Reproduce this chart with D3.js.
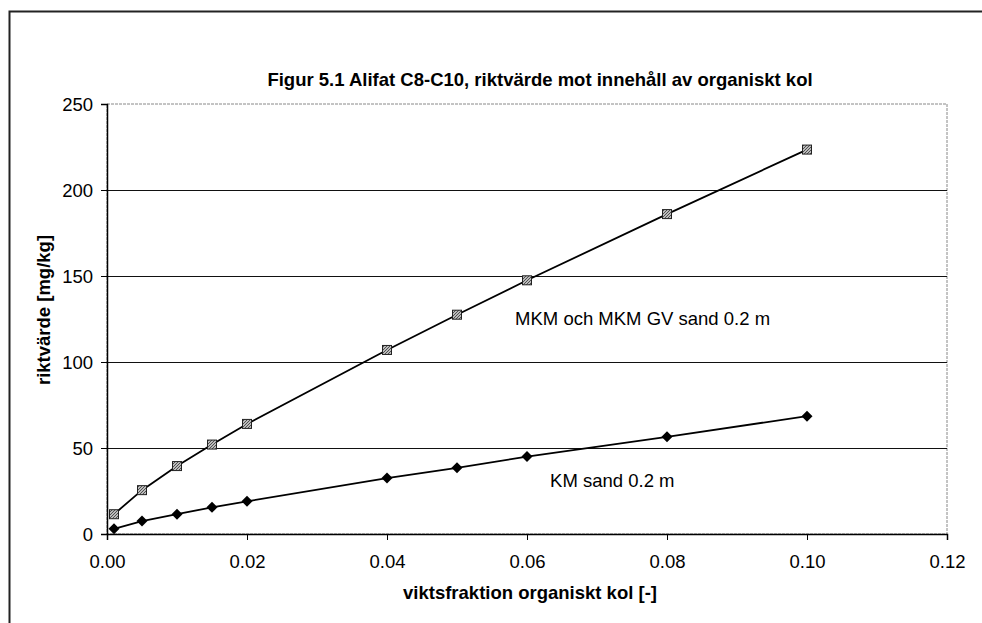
<!DOCTYPE html>
<html>
<head>
<meta charset="utf-8">
<script src="https://cdn.jsdelivr.net/npm/d3@7"></script>
<style>
  body { margin: 0; background: #fff; }
  text { font-family: "Liberation Sans", Arial, sans-serif; fill: #000; }
</style>
</head>
<body>
<div id="chart"></div>
<script>
// data
var xValues = [0.001, 0.005, 0.01, 0.015, 0.02, 0.04, 0.05, 0.06, 0.08, 0.1];
var mkmValues = [11.5, 25.5, 39.5, 52, 64, 107, 127.5, 147.5, 186, 223.5];
var kmValues = [3, 7.5, 11.5, 15.5, 19, 32.5, 38.5, 45, 56.5, 68.5];
var xTicks = [0, 0.02, 0.04, 0.06, 0.08, 0.10, 0.12];
var yTicks = [0, 50, 100, 150, 200, 250];

var W = 982, H = 623;
var margin = {top: 104, right: 35, bottom: 89, left: 107},
  width = W - margin.left - margin.right,
  height = H - margin.top - margin.bottom;

var root = d3.select("#chart")
  .append("svg")
  .attr("width", W)
  .attr("height", H);

// outer frame (runs off the page at right and bottom)
root.append("path")
  .attr("d", "M9.5," + H + " L9.5,11.5 L" + W + ",11.5")
  .attr("fill", "none")
  .attr("stroke", "#222")
  .attr("stroke-width", 2);

root.append("text")
  .attr("x", 540)
  .attr("y", 86)
  .attr("text-anchor", "middle")
  .style("font-size", "18.5px")
  .style("font-weight", "bold")
  .text("Figur 5.1 Alifat C8-C10, riktvärde mot innehåll av organiskt kol");

var svg = root.append("g")
  .attr("transform", "translate(" + margin.left + "," + margin.top + ")");

var x = d3.scaleLinear().domain([0, 0.12]).range([0, width]);
var y = d3.scaleLinear().domain([0, 250]).range([height, 0]);

// plot area border (grey, dotted look)
svg.append("rect")
  .attr("x", 0).attr("y", 0)
  .attr("width", width).attr("height", height)
  .attr("fill", "none")
  .attr("stroke", "#888")
  .attr("stroke-width", 1)
  .attr("stroke-dasharray", "3,1");

// gridlines
svg.selectAll(".grid")
  .data(yTicks.filter(function(d) { return d > 0 && d < 250; }))
  .enter().append("line")
  .attr("x1", 0).attr("x2", width)
  .attr("y1", function(d) { return Math.round(y(d)) + 0.5; })
  .attr("y2", function(d) { return Math.round(y(d)) + 0.5; })
  .attr("stroke", "#111")
  .attr("stroke-width", 1);

// axes
var xAxis = svg.append("g")
  .attr("transform", "translate(0," + height + ")")
  .call(d3.axisBottom(x).tickValues(xTicks).tickFormat(d3.format(".2f")).tickSize(6).tickPadding(15));
var yAxis = svg.append("g")
  .call(d3.axisLeft(y).tickValues(yTicks).tickSize(6).tickPadding(8));

[xAxis, yAxis].forEach(function(a) {
  a.select(".domain").attr("stroke", "#000").attr("stroke-width", 1.5);
  a.selectAll(".tick line").attr("stroke", "#000");
  a.selectAll("text")
    .style("font-family", "'Liberation Sans', Arial, sans-serif")
    .style("font-size", "18.5px")
    .attr("fill", "#000");
});
yAxis.selectAll("text").attr("dy", "0.36em");

// axis titles
root.append("text")
  .attr("x", 530)
  .attr("y", 599)
  .attr("text-anchor", "middle")
  .style("font-size", "18.5px")
  .style("font-weight", "bold")
  .text("viktsfraktion organiskt kol [-]");

root.append("text")
  .attr("transform", "translate(50,310) rotate(-90)")
  .attr("text-anchor", "middle")
  .style("font-size", "18.5px")
  .style("font-weight", "bold")
  .text("riktvärde [mg/kg]");

// hatch pattern for the square markers
var defs = root.append("defs");
var pat = defs.append("pattern")
  .attr("id", "hatch")
  .attr("patternUnits", "userSpaceOnUse")
  .attr("width", 3).attr("height", 3);
pat.append("rect").attr("width", 3).attr("height", 3).attr("fill", "#bbb");
pat.append("path").attr("d", "M0,3 L3,0").attr("stroke", "#333").attr("stroke-width", 0.8);

var line = d3.line()
  .x(function(d) { return x(d[0]); })
  .y(function(d) { return y(d[1]); });

var mkm = xValues.map(function(v, i) { return [v, mkmValues[i]]; });
var km = xValues.map(function(v, i) { return [v, kmValues[i]]; });

svg.append("path")
  .datum(mkm)
  .attr("d", line)
  .attr("fill", "none")
  .attr("stroke", "#000")
  .attr("stroke-width", 1.8);

svg.append("path")
  .datum(km)
  .attr("d", line)
  .attr("fill", "none")
  .attr("stroke", "#000")
  .attr("stroke-width", 1.8);

svg.selectAll(".sq")
  .data(mkm)
  .enter().append("rect")
  .attr("x", function(d) { return x(d[0]) - 4.5; })
  .attr("y", function(d) { return y(d[1]) - 4.5; })
  .attr("width", 9).attr("height", 9)
  .attr("fill", "url(#hatch)")
  .attr("stroke", "#222")
  .attr("stroke-width", 1);

svg.selectAll(".dia")
  .data(km)
  .enter().append("path")
  .attr("transform", function(d) { return "translate(" + x(d[0]) + "," + y(d[1]) + ")"; })
  .attr("d", "M0,-5.5 L5.5,0 L0,5.5 L-5.5,0 Z")
  .attr("fill", "#000");

// series labels
svg.append("text")
  .attr("x", x(0.0583))
  .attr("y", y(121.5))
  .style("font-size", "18.5px")
  .text("MKM och MKM GV sand 0.2 m");

svg.append("text")
  .attr("x", x(0.0633))
  .attr("y", y(27.5))
  .style("font-size", "18.5px")
  .text("KM sand 0.2 m");
</script>
</body>
</html>
